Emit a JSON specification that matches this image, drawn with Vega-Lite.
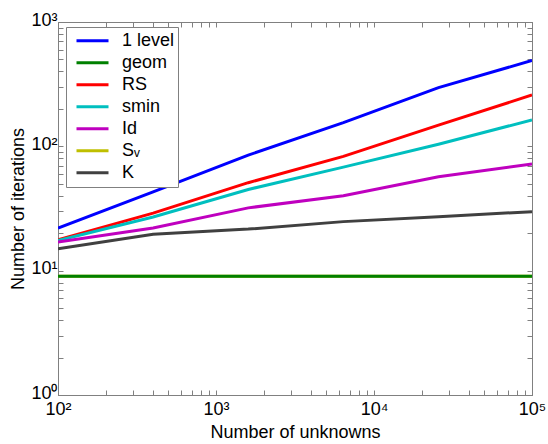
{
  "$schema": "https://vega.github.io/schema/vega-lite/v6.json",
  "width": 474,
  "height": 373,
  "autosize": "none",
  "padding": {"left": 58, "top": 22, "right": 16, "bottom": 49},
  "config": {
    "view": {"stroke": "#808080"},
    "font": "Liberation Sans",
    "axis": {"grid": false, "domainColor": "#808080", "tickColor": "#808080", "labelColor": "#000", "titleColor": "#000", "labelFont": "Liberation Sans", "titleFont": "Liberation Sans", "titleFontWeight": "normal", "labelFontSize": 18, "titleFontSize": 18, "labelOverlap": false, "labelFlush": false, "tickSize": -5}
  },
  "data": {"values": [
    {"n": 100, "it": 9, "s": "Sᵥ"}, {"n": 400, "it": 9, "s": "Sᵥ"}, {"n": 1600, "it": 9, "s": "Sᵥ"}, {"n": 6400, "it": 9, "s": "Sᵥ"}, {"n": 25600, "it": 9, "s": "Sᵥ"}, {"n": 100000, "it": 9, "s": "Sᵥ"},
    {"n": 100, "it": 22, "s": "1 level"}, {"n": 400, "it": 43, "s": "1 level"}, {"n": 1600, "it": 85, "s": "1 level"}, {"n": 6400, "it": 155, "s": "1 level"}, {"n": 25600, "it": 297, "s": "1 level"}, {"n": 100000, "it": 490, "s": "1 level"},
    {"n": 100, "it": 9, "s": "geom"}, {"n": 400, "it": 9, "s": "geom"}, {"n": 1600, "it": 9, "s": "geom"}, {"n": 6400, "it": 9, "s": "geom"}, {"n": 25600, "it": 9, "s": "geom"}, {"n": 100000, "it": 9, "s": "geom"},
    {"n": 100, "it": 17.7, "s": "RS"}, {"n": 400, "it": 29, "s": "RS"}, {"n": 1600, "it": 51, "s": "RS"}, {"n": 6400, "it": 83, "s": "RS"}, {"n": 25600, "it": 148, "s": "RS"}, {"n": 100000, "it": 259, "s": "RS"},
    {"n": 100, "it": 17.5, "s": "smin"}, {"n": 400, "it": 27, "s": "smin"}, {"n": 1600, "it": 45, "s": "smin"}, {"n": 6400, "it": 68, "s": "smin"}, {"n": 25600, "it": 104, "s": "smin"}, {"n": 100000, "it": 163, "s": "smin"},
    {"n": 100, "it": 17, "s": "Id"}, {"n": 400, "it": 22, "s": "Id"}, {"n": 1600, "it": 32, "s": "Id"}, {"n": 6400, "it": 40, "s": "Id"}, {"n": 25600, "it": 57, "s": "Id"}, {"n": 100000, "it": 72, "s": "Id"},
    {"n": 100, "it": 15, "s": "K"}, {"n": 400, "it": 19.6, "s": "K"}, {"n": 1600, "it": 21.6, "s": "K"}, {"n": 6400, "it": 24.8, "s": "K"}, {"n": 25600, "it": 27.2, "s": "K"}, {"n": 100000, "it": 29.8, "s": "K"}
  ]},
  "resolve": {"axis": {"x": "independent", "y": "independent"}},
  "layer": [
    {
      "mark": {"type": "line", "strokeWidth": 3, "clip": true},
      "encoding": {
        "x": {"field": "n", "type": "quantitative", "scale": {"type": "log", "domain": [100, 100000], "nice": false},
          "axis": {"orient": "bottom", "title": "Number of unknowns", "titlePadding": 5,
            "values": [100,200,300,400,500,600,700,800,900,1000,2000,3000,4000,5000,6000,7000,8000,9000,10000,20000,30000,40000,50000,60000,70000,80000,90000,100000],
            "labelExpr": "datum.value == 100 ? '10²' : datum.value == 1000 ? '10³' : datum.value == 10000 ? '10⁴' : datum.value == 100000 ? '10⁵' : ''", "labelPadding": 10}},
        "y": {"field": "it", "type": "quantitative", "scale": {"type": "log", "domain": [1, 1000], "nice": false},
          "axis": {"orient": "left", "title": "Number of iterations", "titlePadding": 3,
            "values": [1,2,3,4,5,6,7,8,9,10,20,30,40,50,60,70,80,90,100,200,300,400,500,600,700,800,900,1000],
            "labelExpr": "datum.value == 1 ? '10⁰' : datum.value == 10 ? '10¹' : datum.value == 100 ? '10²' : datum.value == 1000 ? '10³' : ''", "labelPadding": 6, "labelOffset": -2}},
        "color": {"field": "s", "type": "nominal",
          "scale": {"domain": ["1 level", "geom", "RS", "smin", "Id", "Sᵥ", "K"], "range": ["#0000FF", "#008000", "#FF0000", "#00BFBF", "#BF00BF", "#BFBF00", "#404040"]},
          "legend": {"title": null, "orient": "none", "legendX": 8, "legendY": 5, "symbolType": "stroke", "symbolSize": 1024, "symbolStrokeWidth": 3, "symbolOffset": 6, "labelFontSize": 18, "labelFont": "Liberation Sans", "labelColor": "#000", "rowPadding": 0, "clipHeight": 21.5, "labelOffset": 12, "padding": 3, "strokeColor": "#808080", "fillColor": "#ffffff", "offset": 0}}
      }
    },
    {
      "mark": {"type": "point", "opacity": 0},
      "encoding": {
        "x": {"field": "n", "type": "quantitative", "scale": {"type": "log", "domain": [100, 100000], "nice": false},
          "axis": {"orient": "top", "title": null, "labels": false,
            "values": [100,200,300,400,500,600,700,800,900,1000,2000,3000,4000,5000,6000,7000,8000,9000,10000,20000,30000,40000,50000,60000,70000,80000,90000,100000]}},
        "y": {"field": "it", "type": "quantitative", "scale": {"type": "log", "domain": [1, 1000], "nice": false},
          "axis": {"orient": "right", "title": null, "labels": false,
            "values": [1,2,3,4,5,6,7,8,9,10,20,30,40,50,60,70,80,90,100,200,300,400,500,600,700,800,900,1000]}}
      }
    }
  ]
}
